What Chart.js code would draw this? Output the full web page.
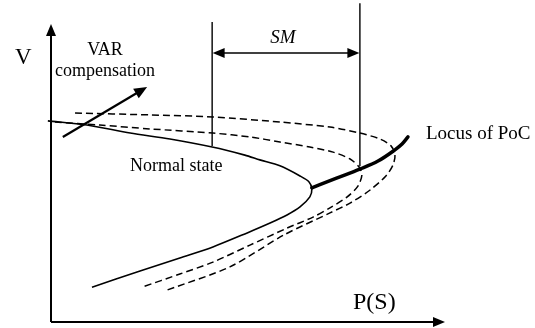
<!DOCTYPE html>
<html><head><meta charset="utf-8">
<script src="https://cdn.jsdelivr.net/npm/chart.js@4"></script>
<style>html,body{margin:0;padding:0;background:#fff}canvas{display:block}</style>
</head><body>
<canvas id="c" width="535" height="328"></canvas>
<script>
// P-V curves (schematic units: P 0..10, V 0..10)
const normalP = [-0.08,0.91,2.01,3.02,4.09,4.92,5.30,5.81,6.32,6.55,6.62,6.57,6.32,5.99,5.56,4.98,4.11,3.27,2.26,1.04];
const normalV = [6.75,6.61,6.34,6.14,5.87,5.60,5.44,5.24,4.90,4.70,4.46,4.20,3.86,3.59,3.32,2.99,2.52,2.15,1.71,1.17];
const comp1P = [0.10,1.24,2.51,4.11,5.05,5.81,6.57,7.16,7.59,7.82,7.89,7.79,7.51,7.08,6.65,5.99,5.05,4.11,3.27,2.31];
const comp1V = [6.71,6.61,6.48,6.34,6.21,6.04,5.87,5.70,5.47,5.20,4.93,4.56,4.19,3.83,3.52,3.15,2.58,2.01,1.61,1.17];
const comp2P = [0.61,2.51,4.11,5.81,7.08,7.84,8.35,8.63,8.73,8.68,8.50,8.10,7.59,7.08,5.91,4.54,2.94];
const comp2V = [7.01,6.95,6.88,6.71,6.54,6.34,6.14,5.91,5.60,5.27,4.90,4.43,3.99,3.66,2.92,1.85,1.07];
const locusP = [6.62,7.23,7.84,8.30,8.68,8.91,9.06];
const locusV = [4.50,4.82,5.13,5.40,5.73,5.97,6.21];
// stability margin markers
const smLeftP = 4.09, smRightP = 7.84;
const smLeftV = [10.07,5.91];
const smRightV = [10.70,5.23];
const smArrowV = 9.03;
// VAR compensation arrow
const varArrowP = [0.30,2.44];
const varArrowV = [6.21,7.89];

const zip = (xs, ys) => xs.map((x, i) => ({x, y: ys[i]}));

const serif = '"Liberation Serif", "DejaVu Serif", serif';

function arrowHead(ctx, x1, y1, x2, y2, len, half) {
  const a = Math.atan2(y2 - y1, x2 - x1);
  ctx.beginPath();
  ctx.moveTo(x2, y2);
  ctx.lineTo(x2 - len * Math.cos(a) + half * Math.sin(a), y2 - len * Math.sin(a) - half * Math.cos(a));
  ctx.lineTo(x2 - len * Math.cos(a) - half * Math.sin(a), y2 - len * Math.sin(a) + half * Math.cos(a));
  ctx.closePath();
  ctx.fill();
}

const decor = {
  id: 'decor',
  afterDraw(chart) {
    const ctx = chart.ctx, a = chart.chartArea;
    const xs = chart.scales.x, ys = chart.scales.y;
    ctx.save();
    ctx.strokeStyle = '#000'; ctx.fillStyle = '#000';
    // axes
    ctx.lineWidth = 2;
    ctx.beginPath();
    ctx.moveTo(a.left, a.bottom); ctx.lineTo(a.left, a.top + 8);
    ctx.moveTo(a.left, a.bottom); ctx.lineTo(a.right - 8, a.bottom);
    ctx.stroke();
    arrowHead(ctx, a.left, a.bottom, a.left, a.top, 12, 5);
    arrowHead(ctx, a.left, a.bottom, a.right, a.bottom, 12, 5);
    // SM double arrow
    const y = ys.getPixelForValue(smArrowV);
    const xl = xs.getPixelForValue(smLeftP), xr = xs.getPixelForValue(smRightP);
    ctx.lineWidth = 1.5;
    ctx.beginPath(); ctx.moveTo(xl + 8, y); ctx.lineTo(xr - 8, y); ctx.stroke();
    arrowHead(ctx, xr, y, xl + 0.5, y, 12, 5);
    arrowHead(ctx, xl, y, xr - 0.5, y, 12, 5);
    // VAR arrow
    const x1 = xs.getPixelForValue(varArrowP[0]), y1 = ys.getPixelForValue(varArrowV[0]);
    const x2 = xs.getPixelForValue(varArrowP[1]), y2 = ys.getPixelForValue(varArrowV[1]);
    ctx.lineWidth = 2.2;
    const ang = Math.atan2(y2 - y1, x2 - x1);
    ctx.beginPath(); ctx.moveTo(x1, y1); ctx.lineTo(x2 - 8 * Math.cos(ang), y2 - 8 * Math.sin(ang)); ctx.stroke();
    arrowHead(ctx, x1, y1, x2, y2, 13, 5.5);
    // texts
    ctx.textBaseline = 'alphabetic';
    ctx.textAlign = 'left';
    ctx.font = '23px ' + serif; ctx.fillText('V', 15, 64);
    ctx.font = '24px ' + serif; ctx.fillText('P(S)', 353, 309);
    ctx.font = '18px ' + serif; ctx.fillText('Normal state', 130, 171);
    ctx.font = '19px ' + serif; ctx.fillText('Locus of PoC', 426, 139);
    ctx.textAlign = 'center';
    ctx.font = '18px ' + serif;
    ctx.fillText('VAR', 105, 55);
    ctx.fillText('compensation', 105, 76);
    ctx.font = 'italic 19px ' + serif; ctx.fillText('SM', 283, 43);
    ctx.restore();
  }
};

const base = {showLine: true, pointRadius: 0, borderColor: '#000', fill: false, clip: false, tension: 0.28};

new Chart(document.getElementById('c'), {
  type: 'scatter',
  data: {
    datasets: [
      Object.assign({}, base, {label: 'Normal state', data: zip(normalP, normalV), borderWidth: 1.6}),
      Object.assign({}, base, {label: 'Compensation 1', data: zip(comp1P, comp1V), borderWidth: 1.5, borderDash: [7, 4]}),
      Object.assign({}, base, {label: 'Compensation 2', data: zip(comp2P, comp2V), borderWidth: 1.5, borderDash: [7, 4]}),
      Object.assign({}, base, {label: 'Locus of PoC', data: zip(locusP, locusV), borderWidth: 3.5, cubicInterpolationMode: 'monotone', borderCapStyle: 'round'}),
      Object.assign({}, base, {label: 'SM left', data: zip([smLeftP, smLeftP], smLeftV), borderWidth: 1.4, tension: 0}),
      Object.assign({}, base, {label: 'SM right', data: zip([smRightP, smRightP], smRightV), borderWidth: 1.4, tension: 0})
    ]
  },
  options: {
    responsive: false,
    animation: false,
    layout: {padding: {left: 51, right: 90, top: 24, bottom: 6}},
    plugins: {legend: {display: false}, tooltip: {enabled: false}},
    scales: {
      x: {type: 'linear', min: 0, max: 10, display: false},
      y: {type: 'linear', min: 0, max: 10, display: false}
    }
  },
  plugins: [decor]
});
</script>
</body></html>
